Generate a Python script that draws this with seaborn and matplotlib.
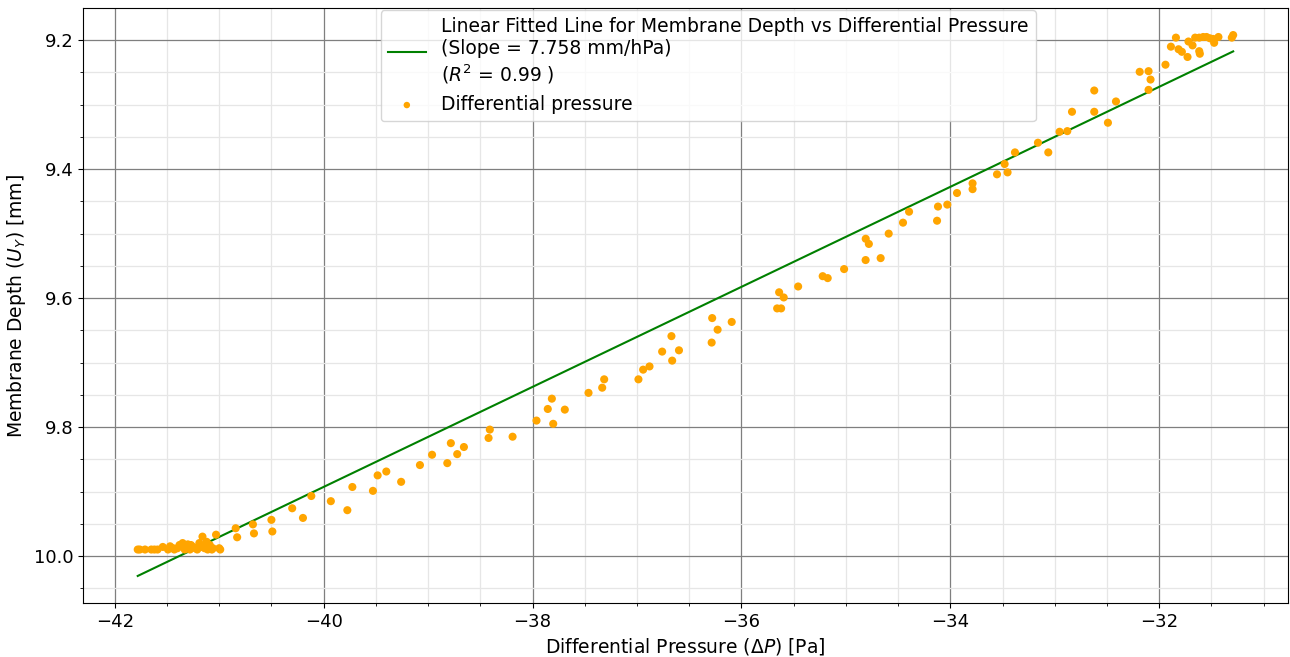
import numpy as np
import pandas as pd
import matplotlib
matplotlib.use("Agg")
import matplotlib.pyplot as plt
from matplotlib.ticker import MultipleLocator
import seaborn as sns

# ---- data ----
pressure = [
    -41.78, -41.76, -41.71, -41.65, -41.62, -41.59, -41.54, -41.49, -41.47, -41.44,
    -41.43, -41.40, -41.38, -41.36, -41.35, -41.33, -41.31, -41.30, -41.28, -41.27,
    -41.25, -41.23, -41.21, -41.19, -41.17, -41.16, -41.14, -41.13, -41.12, -41.11,
    -41.09, -41.07, -41.06, -41.03, -41.00, -40.99,
    -40.842, -40.828, -40.677, -40.667, -40.500, -40.491, -40.301, -40.198, -40.118,
    -39.931, -39.773, -39.725, -39.528, -39.483, -39.400, -39.258, -39.078, -38.962,
    -38.816, -38.782, -38.721, -38.657, -38.421, -38.409, -38.191, -37.962, -37.854,
    -37.815, -37.802, -37.691, -37.464, -37.333, -37.314, -36.986, -36.941, -36.880,
    -36.759, -36.670, -36.663, -36.598, -36.285, -36.280, -36.228, -36.093, -35.658,
    -35.620, -35.639, -35.595, -35.457, -35.222, -35.174, -35.017, -34.811, -34.667,
    -34.453, -34.395, -34.127, -34.118, -34.029, -33.936, -33.787, -33.787, -33.553,
    -33.480, -33.452, -33.381, -33.161, -33.062, -32.954, -32.880, -32.835, -32.622,
    -32.622, -32.491, -32.414, -32.187, -32.102, -32.083, -32.102, -31.940, -31.888,
    -31.840, -31.815, -31.783, -31.729, -31.720, -31.681, -31.656, -31.617, -31.611,
    -31.617, -31.579, -31.547, -31.515, -31.474, -31.483, -31.433, -31.305, -31.292,
    -34.81, -34.78, -34.59,
]
depth = [
    9.990, 9.990, 9.990, 9.990, 9.990, 9.990, 9.986, 9.990, 9.985, 9.988,
    9.990, 9.988, 9.983, 9.985, 9.980, 9.990, 9.986, 9.982, 9.990, 9.983,
    9.986, 9.988, 9.990, 9.980, 9.986, 9.970, 9.988, 9.984, 9.978, 9.990,
    9.983, 9.990, 9.988, 9.967, 9.988, 9.990,
    9.957, 9.971, 9.951, 9.965, 9.944, 9.962, 9.926, 9.941, 9.907,
    9.915, 9.929, 9.893, 9.899, 9.875, 9.869, 9.885, 9.859, 9.843,
    9.856, 9.825, 9.842, 9.831, 9.817, 9.804, 9.815, 9.790, 9.772,
    9.756, 9.795, 9.773, 9.747, 9.739, 9.726, 9.726, 9.711, 9.706,
    9.683, 9.659, 9.697, 9.681, 9.669, 9.631, 9.649, 9.637, 9.616,
    9.616, 9.591, 9.599, 9.582, 9.566, 9.569, 9.555, 9.541, 9.538,
    9.483, 9.466, 9.480, 9.458, 9.455, 9.437, 9.422, 9.431, 9.408,
    9.392, 9.405, 9.374, 9.359, 9.374, 9.342, 9.341, 9.311, 9.278,
    9.311, 9.328, 9.295, 9.249, 9.248, 9.261, 9.277, 9.238, 9.210,
    9.196, 9.214, 9.218, 9.226, 9.202, 9.208, 9.196, 9.217, 9.221,
    9.196, 9.195, 9.195, 9.197, 9.204, 9.198, 9.195, 9.196, 9.192,
    9.508, 9.516, 9.500,
]

fit_slope = -0.07758      # mm per Pa  (7.758 mm/hPa)
fit_intercept = 6.7897    # mm
r_squared = 0.99

fit_label = ("Linear Fitted Line for Membrane Depth vs Differential Pressure\n"
             "(Slope = 7.758 mm/hPa)\n"
             "($R^2$ = 0.99 )")
scatter_label = "Differential pressure"
x_label = r"Differential Pressure ($\Delta P$) [Pa]"
y_label = r"Membrane Depth ($U_Y$) [mm]"

# ---- build frames ----
df = pd.DataFrame({"pressure": pressure, "depth": depth})
fx = np.array([min(pressure), max(pressure)])
fit_df = pd.DataFrame({"pressure": fx, "depth": fit_intercept + fit_slope * fx})

plt.rcParams["font.family"] = ["DejaVu Sans"]
fig = plt.figure(figsize=(12.9, 6.57), dpi=100)
ax = fig.add_axes([0.0643, 0.0822, 0.9341, 0.9056])

sns.lineplot(data=fit_df, x="pressure", y="depth", color="green", linewidth=1.5,
             label=fit_label, ax=ax, zorder=3)
sns.scatterplot(data=df, x="pressure", y="depth", color="orange", s=34,
                edgecolor="none", label=scatter_label, ax=ax, zorder=4)

ax.invert_yaxis()
ax.xaxis.set_major_locator(MultipleLocator(2))
ax.xaxis.set_minor_locator(MultipleLocator(0.5))
ax.yaxis.set_major_locator(MultipleLocator(0.2))
ax.yaxis.set_minor_locator(MultipleLocator(0.05))
ax.grid(which="major", color="#7f7f7f", linewidth=0.9)
ax.grid(which="minor", color="#e6e6e6", linewidth=0.9)
ax.set_axisbelow(True)

ax.tick_params(axis="both", which="major", labelsize=13)
ax.set_xlabel(x_label, fontsize=13.5)
ax.set_ylabel(y_label, fontsize=13.5)

leg = ax.legend(loc="upper left", bbox_to_anchor=(0.247, 0.997), borderaxespad=0,
                fontsize=13.5, markerscale=0.8)

fig.savefig("out.png", dpi=100)
